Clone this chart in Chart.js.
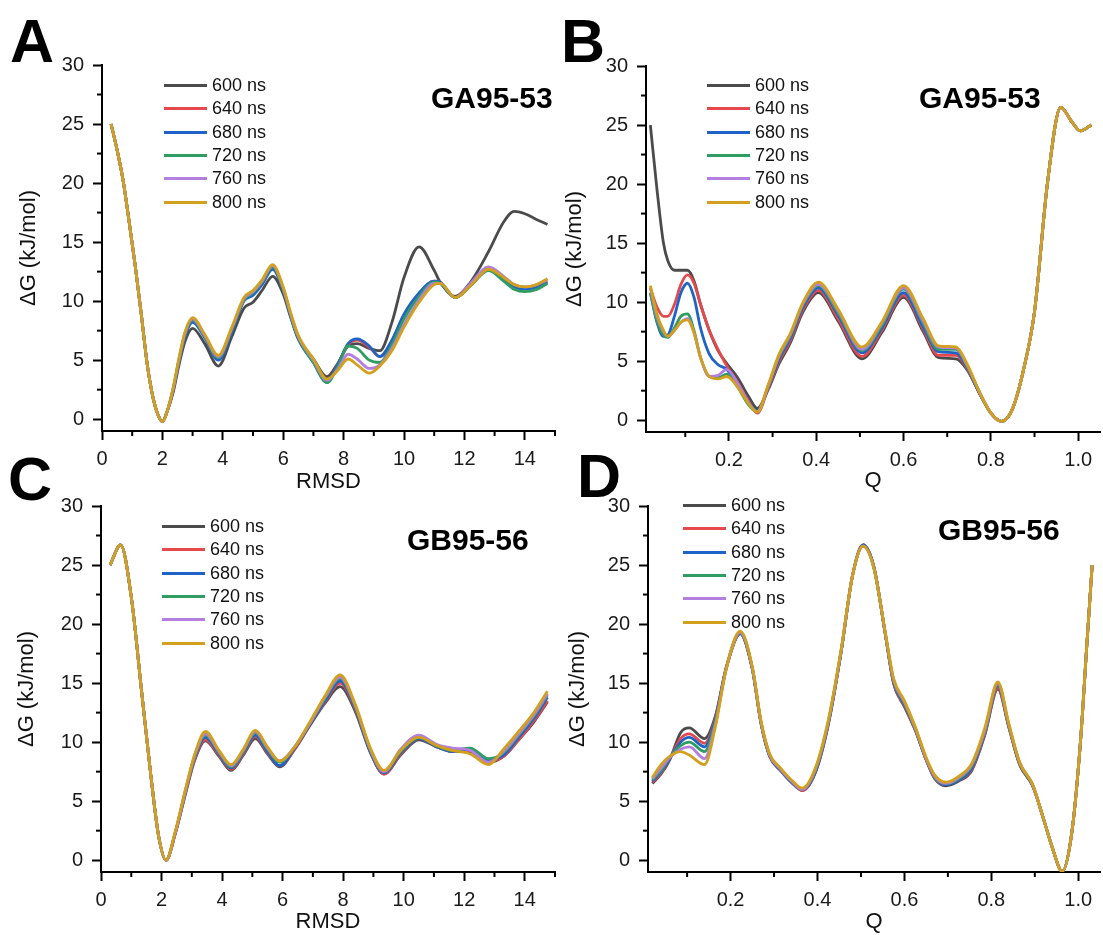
<!DOCTYPE html>
<html>
<head>
<meta charset="utf-8">
<script src="https://cdn.jsdelivr.net/npm/chart.js@4/dist/chart.umd.min.js"></script>
<style>
body { margin: 0; width: 1103px; height: 935px; position: relative; background: #fff; overflow: hidden;
       font-family: 'Liberation Sans', Arial, sans-serif; color: #000; }
canvas { position: absolute; }
.letter { position: absolute; font-weight: bold; font-size: 61px; line-height: 61px; }
.tag { position: absolute; font-weight: bold; font-size: 30px; line-height: 30px; white-space: nowrap; }
.legend { position: absolute; font-size: 18px; color: #111; }
.legend div { height: 23.3px; display: flex; align-items: center; white-space: nowrap; }
.legend span.ln { display: inline-block; width: 43px; height: 3px; margin-right: 5px; }
</style>
</head>
<body>
<canvas id="cA" width="560" height="500" style="left:0;top:0"></canvas>
<canvas id="cB" width="543" height="500" style="left:560px;top:0"></canvas>
<canvas id="cC" width="560" height="495" style="left:0;top:440px"></canvas>
<canvas id="cD" width="543" height="495" style="left:560px;top:440px"></canvas>

<div class="letter" style="left:10px;top:11px">A</div>
<div class="letter" style="left:561px;top:11px">B</div>
<div class="letter" style="left:8px;top:449px">C</div>
<div class="letter" style="left:577px;top:446px">D</div>

<div class="tag" style="left:431px;top:83px">GA95-53</div>
<div class="tag" style="left:919px;top:83px">GA95-53</div>
<div class="tag" style="left:407px;top:525px">GB95-56</div>
<div class="tag" style="left:938px;top:515px">GB95-56</div>

<div class="legend" id="lA" style="left:164px;top:74px"></div>
<div class="legend" id="lB" style="left:707px;top:74px"></div>
<div class="legend" id="lC" style="left:162px;top:515px"></div>
<div class="legend" id="lD" style="left:683px;top:494px"></div>

<script>
const LABELS = ['600 ns', '640 ns', '680 ns', '720 ns', '760 ns', '800 ns'];
const COLORS = ['#4b4b4b', '#e5484d', '#1f63c8', '#2f9d62', '#b27ee0', '#d2a01c'];

// axis ticks
const dgTicks = [0, 5, 10, 15, 20, 25, 30];
const dgMinor = [2.5, 7.5, 12.5, 17.5, 22.5, 27.5];
const rmsdTicks = [0, 2, 4, 6, 8, 10, 12, 14];
const rmsdMinor = [1, 3, 5, 7, 9, 11, 13, 15];
const qTicks = [0.2, 0.4, 0.6, 0.8, 1.0];
const qMinor = [0.1, 0.3, 0.5, 0.7, 0.9];

// panel A: GA95-53 vs RMSD
const rmsdA = [0.3, 0.5, 0.7, 0.9, 1.1, 1.3, 1.5, 1.7, 1.85, 2.0, 2.15, 2.35, 2.55, 2.75, 3.0, 3.4, 3.85, 4.3, 4.7, 5.0,
  5.3, 5.65, 6.0, 6.25, 6.5, 7.0, 7.45, 7.8, 8.15, 8.45, 8.85, 9.2, 9.6, 10.0, 10.5, 11.0, 11.2, 11.7, 12.2, 12.8,
  13.3, 13.65, 14.0, 14.4, 14.75];
const a600 = [25.0, 22.8, 20.2, 16.7, 13.0, 8.9, 4.6, 1.7, 0.4, -0.2, 0.6, 2.2, 4.6, 6.6, 7.7, 6.4, 4.5, 7.0, 9.4, 9.9,
  10.9, 12.1, 10.6, 8.6, 6.8, 5.1, 3.6, 4.7, 6.2, 6.4, 6.0, 5.8, 8.2, 12.0, 14.6, 12.6, 11.6, 10.4, 11.6, 14.2,
  16.7, 17.6, 17.4, 16.9, 16.5];
const a640 = [25.0, 22.8, 20.2, 16.7, 13.0, 8.9, 4.6, 1.7, 0.4, -0.2, 0.6, 2.4, 4.9, 7.1, 8.3, 7.0, 5.1, 7.5, 10.1, 10.6,
  11.5, 12.8, 11.0, 8.8, 6.9, 4.9, 3.2, 4.6, 6.3, 6.7, 6.1, 5.3, 6.6, 8.8, 10.6, 11.7, 11.6, 10.3, 11.4, 12.7,
  11.9, 11.3, 11.1, 11.3, 11.7];
const a680 = [25.0, 22.8, 20.2, 16.7, 13.0, 8.9, 4.6, 1.7, 0.4, -0.2, 0.6, 2.4, 4.9, 7.0, 8.2, 6.9, 5.0, 7.4, 10.0, 10.5,
  11.4, 12.7, 10.9, 8.7, 6.8, 4.8, 3.1, 4.6, 6.4, 6.8, 6.2, 5.3, 6.7, 8.9, 10.7, 11.7, 11.6, 10.3, 11.3, 12.6,
  11.8, 11.2, 11.0, 11.2, 11.6];
const a720 = [25.0, 22.8, 20.2, 16.7, 13.0, 8.9, 4.6, 1.7, 0.4, -0.2, 0.6, 2.5, 5.0, 7.2, 8.4, 7.0, 5.2, 7.6, 10.1, 10.7,
  11.6, 12.9, 11.0, 8.8, 6.9, 4.8, 3.1, 4.4, 6.2, 6.0, 5.0, 4.8, 6.3, 8.5, 10.4, 11.6, 11.5, 10.3, 11.3, 12.6,
  11.7, 11.0, 10.8, 11.0, 11.5];
const a760 = [25.0, 22.8, 20.2, 16.7, 13.0, 8.9, 4.6, 1.7, 0.4, -0.2, 0.6, 2.5, 5.1, 7.3, 8.5, 7.1, 5.3, 7.7, 10.2, 10.8,
  11.7, 13.0, 11.1, 8.9, 7.0, 5.0, 3.3, 4.2, 5.5, 5.1, 4.3, 4.6, 6.0, 8.0, 10.1, 11.5, 11.5, 10.3, 11.5, 12.9,
  12.1, 11.4, 11.2, 11.4, 11.8];
const a800 = [25.0, 22.8, 20.2, 16.7, 13.0, 8.9, 4.6, 1.7, 0.4, -0.2, 0.6, 2.6, 5.2, 7.4, 8.6, 7.2, 5.4, 7.8, 10.3, 10.9,
  11.8, 13.1, 11.2, 9.0, 7.1, 5.1, 3.4, 4.1, 5.1, 4.6, 3.9, 4.5, 5.8, 7.8, 9.9, 11.4, 11.5, 10.3, 11.3, 12.7,
  12.0, 11.4, 11.2, 11.4, 11.9];

// panel B: GA95-53 vs Q
const qB = [0.02, 0.035, 0.05, 0.06, 0.075, 0.09, 0.105, 0.12, 0.135, 0.155, 0.175, 0.195, 0.22, 0.245, 0.265, 0.29,
  0.315, 0.34, 0.37, 0.405, 0.45, 0.505, 0.55, 0.6, 0.645, 0.68, 0.72, 0.745, 0.775, 0.8, 0.825, 0.85, 0.875, 0.9,
  0.93, 0.96, 0.985, 1.005, 1.03];
const b600 = [25.0, 19.6, 15.0, 13.5, 12.7, 12.7, 12.7, 11.8, 9.8, 7.6, 5.9, 4.8, 3.6, 2.0, 1.0, 2.6, 4.8, 6.5, 9.2, 10.8,
  8.4, 5.2, 7.4, 10.4, 7.5, 5.3, 5.2, 4.3, 2.2, 0.6, -0.1, 1.0, 4.3, 9.2, 20.2, 26.5, 25.3, 24.5, 25.0];
const b640 = [11.2, 9.6, 8.8, 8.8, 9.8, 11.5, 12.3, 11.6, 9.8, 7.6, 6.0, 4.6, 3.2, 1.6, 0.6, 2.7, 5.0, 6.7, 9.4, 11.0,
  8.6, 5.4, 7.6, 10.6, 7.7, 5.5, 5.5, 4.4, 2.2, 0.6, -0.1, 1.0, 4.3, 9.2, 20.2, 26.5, 25.3, 24.5, 25.0];
const b680 = [10.8, 8.3, 7.1, 7.2, 8.8, 10.8, 11.6, 10.4, 7.8, 5.6, 4.7, 4.3, 3.0, 1.5, 0.8, 2.8, 5.2, 6.9, 9.6, 11.2,
  8.9, 5.7, 7.8, 10.8, 7.9, 5.8, 5.7, 4.5, 2.2, 0.6, -0.1, 1.0, 4.3, 9.2, 20.2, 26.5, 25.3, 24.5, 25.0];
const b720 = [10.8, 8.4, 7.2, 7.0, 7.8, 8.8, 9.0, 7.6, 5.3, 3.7, 3.6, 3.9, 2.8, 1.3, 0.7, 2.9, 5.4, 7.1, 9.8, 11.4,
  9.1, 5.9, 8.0, 11.1, 8.2, 6.0, 6.0, 4.6, 2.3, 0.6, -0.1, 1.0, 4.3, 9.2, 20.2, 26.5, 25.3, 24.5, 25.0];
const b760 = [11.2, 8.8, 7.5, 7.1, 7.6, 8.3, 8.6, 7.4, 5.3, 3.7, 3.8, 4.3, 3.1, 1.5, 0.7, 2.9, 5.5, 7.2, 9.9, 11.5,
  9.3, 6.0, 8.2, 11.2, 8.4, 6.2, 6.1, 4.7, 2.3, 0.6, -0.1, 1.0, 4.3, 9.2, 20.2, 26.5, 25.3, 24.5, 25.0];
const b800 = [11.4, 9.0, 7.6, 7.1, 7.6, 8.3, 8.5, 7.4, 5.3, 3.7, 3.5, 3.7, 2.8, 1.4, 0.7, 3.0, 5.6, 7.3, 10.0, 11.7,
  9.4, 6.2, 8.3, 11.4, 8.6, 6.3, 6.2, 4.8, 2.3, 0.6, -0.1, 1.0, 4.3, 9.2, 20.2, 26.5, 25.3, 24.5, 25.0];

// panel C: GB95-56 vs RMSD
const rmsdC = [0.3, 0.65, 1.0, 1.35, 1.65, 1.9, 2.15, 2.45, 2.8, 3.1, 3.45, 3.9, 4.3, 4.7, 5.1, 5.5, 5.9, 6.4, 6.9, 7.4,
  7.9, 8.4, 8.9, 9.35, 9.9, 10.5, 11.1, 11.6, 12.2, 12.8, 13.3, 13.8, 14.3, 14.75];
const c600 = [25.0, 26.7, 22.3, 14.1, 7.1, 2.1, 0.0, 2.2, 5.7, 8.5, 10.1, 8.8, 7.6, 8.9, 10.3, 9.0, 7.9, 9.4, 11.4, 13.3,
  14.7, 12.6, 9.1, 7.3, 8.9, 10.2, 9.6, 9.2, 9.2, 8.3, 8.8, 10.2, 11.7, 13.4];
const c640 = [25.0, 26.7, 22.3, 14.1, 7.1, 2.1, 0.0, 2.2, 5.8, 8.6, 10.2, 8.9, 7.7, 9.0, 10.5, 9.1, 8.0, 9.4, 11.5, 13.4,
  15.0, 12.8, 9.2, 7.3, 9.0, 10.3, 9.6, 9.2, 9.3, 8.4, 8.8, 10.2, 11.8, 13.5];
const c680 = [25.0, 26.7, 22.3, 14.1, 7.1, 2.1, 0.0, 2.3, 5.9, 8.7, 10.4, 9.0, 7.8, 9.1, 10.6, 9.2, 8.0, 9.5, 11.5, 13.5,
  15.2, 12.9, 9.2, 7.4, 9.1, 10.3, 9.6, 9.2, 9.4, 8.5, 8.9, 10.4, 12.0, 13.8];
const c720 = [25.0, 26.7, 22.3, 14.1, 7.1, 2.1, 0.0, 2.3, 6.0, 8.8, 10.6, 9.1, 7.9, 9.2, 10.8, 9.4, 8.3, 9.6, 11.6, 13.7,
  15.4, 13.0, 9.3, 7.5, 9.2, 10.4, 9.7, 9.3, 9.5, 8.6, 9.1, 10.6, 12.2, 14.0];
const c760 = [25.0, 26.7, 22.3, 14.1, 7.1, 2.1, 0.0, 2.3, 6.0, 8.9, 10.7, 9.2, 8.0, 9.3, 10.9, 9.5, 8.4, 9.6, 11.6, 13.8,
  15.5, 13.1, 9.4, 7.5, 9.4, 10.6, 9.8, 9.5, 9.3, 8.3, 9.2, 10.7, 12.3, 14.1];
const c800 = [25.0, 26.7, 22.3, 14.1, 7.1, 2.1, 0.0, 2.4, 6.1, 9.0, 10.9, 9.3, 8.1, 9.4, 11.0, 9.6, 8.4, 9.6, 11.7, 13.9,
  15.7, 13.2, 9.5, 7.6, 9.3, 10.4, 9.7, 9.3, 9.0, 8.1, 9.4, 10.9, 12.5, 14.3];

// panel D: GB95-56 vs Q
const qD = [0.02, 0.04, 0.06, 0.085, 0.105, 0.14, 0.165, 0.19, 0.222, 0.25, 0.27, 0.29, 0.315, 0.34, 0.365, 0.395, 0.425,
  0.455, 0.48, 0.505, 0.53, 0.555, 0.575, 0.6, 0.625, 0.65, 0.67, 0.695, 0.725, 0.755, 0.785, 0.815, 0.84, 0.865,
  0.895, 0.92, 0.94, 0.963, 0.985, 1.005, 1.02, 1.032];
const d600 = [6.5, 7.3, 8.5, 10.8, 11.2, 10.3, 12.2, 16.3, 19.2, 16.2, 11.6, 8.8, 7.6, 6.6, 5.9, 7.4, 11.5, 17.8, 24.0, 26.7,
  24.8, 19.4, 15.0, 13.0, 11.0, 8.5, 6.9, 6.3, 6.7, 7.6, 10.6, 14.5, 11.3, 8.1, 6.3, 3.5, 1.1, -0.95, 2.3, 10.0, 18.4, 25.0];
const d640 = [6.6, 7.4, 8.6, 10.3, 10.7, 9.9, 12.0, 16.3, 19.2, 16.2, 11.6, 8.8, 7.6, 6.6, 5.9, 7.5, 11.6, 17.8, 24.0, 26.7,
  24.8, 19.4, 15.0, 13.1, 11.0, 8.5, 6.9, 6.4, 6.8, 7.7, 10.7, 14.6, 11.3, 8.1, 6.3, 3.5, 1.1, -0.95, 2.3, 10.0, 18.4, 25.0];
const d680 = [6.7, 7.5, 8.6, 10.0, 10.4, 9.6, 11.9, 16.3, 19.2, 16.2, 11.6, 8.8, 7.6, 6.6, 6.0, 7.5, 11.6, 17.8, 24.0, 26.7,
  24.8, 19.4, 15.1, 13.2, 11.1, 8.5, 7.0, 6.4, 6.8, 7.8, 10.8, 14.8, 11.4, 8.2, 6.3, 3.5, 1.1, -0.95, 2.3, 10.0, 18.4, 25.0];
const d720 = [6.8, 7.6, 8.7, 9.7, 10.0, 9.2, 11.7, 16.2, 19.3, 16.3, 11.7, 8.9, 7.7, 6.7, 6.0, 7.6, 11.7, 17.9, 24.0, 26.6,
  24.7, 19.4, 15.2, 13.3, 11.1, 8.6, 7.0, 6.5, 6.9, 8.0, 10.9, 14.9, 11.4, 8.2, 6.4, 3.5, 1.1, -0.95, 2.3, 10.0, 18.4, 25.0];
const d760 = [6.9, 7.8, 8.7, 9.4, 9.6, 8.6, 11.5, 16.2, 19.3, 16.3, 11.7, 8.9, 7.7, 6.7, 6.0, 7.7, 11.8, 17.9, 24.0, 26.6,
  24.7, 19.5, 15.3, 13.4, 11.2, 8.6, 7.1, 6.5, 7.0, 8.1, 11.0, 15.0, 11.5, 8.3, 6.4, 3.5, 1.1, -0.95, 2.3, 10.0, 18.4, 25.0];
const d800 = [7.0, 8.1, 8.8, 9.2, 8.9, 8.1, 11.3, 16.2, 19.4, 16.4, 11.8, 9.0, 7.8, 6.8, 6.1, 7.8, 11.9, 18.0, 24.0, 26.6,
  24.7, 19.5, 15.4, 13.5, 11.3, 8.7, 7.2, 6.6, 7.1, 8.2, 11.2, 15.1, 11.6, 8.3, 6.4, 3.5, 1.1, -0.95, 2.3, 10.0, 18.4, 25.0];

const FONT = "'Liberation Sans', Arial, sans-serif";
Chart.defaults.font.family = FONT;
Chart.defaults.color = '#1a1a1a';

// short unlabeled ticks between the labelled ones
const minorTicks = {
  id: 'minorTicks',
  afterDraw(chart, args, opts) {
    const ctx = chart.ctx, xs = chart.scales.x, ys = chart.scales.y;
    ctx.save();
    ctx.strokeStyle = '#000';
    ctx.lineWidth = 2;
    opts.x.forEach(v => {
      const p = xs.getPixelForValue(v);
      ctx.beginPath(); ctx.moveTo(p, xs.top); ctx.lineTo(p, xs.top + 5); ctx.stroke();
    });
    opts.y.forEach(v => {
      const p = ys.getPixelForValue(v);
      ctx.beginPath(); ctx.moveTo(ys.right, p); ctx.lineTo(ys.right - 5, p); ctx.stroke();
    });
    ctx.restore();
  }
};

function axisLook() {
  return {
    border: { display: true, color: '#000', width: 2 },
    grid: { display: true, drawOnChartArea: false, drawTicks: true, tickLength: 9, tickWidth: 2, tickColor: '#000' }
  };
}

function buildChart(id, xs, series, o) {
  return new Chart(document.getElementById(id), {
    type: 'line',
    data: {
      datasets: series.map((ys, i) => ({
        label: LABELS[i],
        data: xs.map((x, j) => ({ x: x, y: ys[j] })),
        borderColor: COLORS[i],
        borderWidth: 2.8,
        pointRadius: 0,
        fill: false,
        cubicInterpolationMode: 'monotone',
        order: series.length - i
      }))
    },
    options: {
      responsive: false,
      animation: false,
      events: [],
      layout: { padding: { top: o.top, right: o.right, left: 0, bottom: 0 } },
      plugins: {
        legend: { display: false },
        tooltip: { enabled: false },
        minorTicks: { x: o.minor, y: dgMinor }
      },
      scales: {
        x: Object.assign(axisLook(), {
          type: 'linear', min: o.min, max: o.max,
          afterBuildTicks: s => { s.ticks = o.ticks.map(v => ({ value: v })); },
          afterFit: s => { s.height = o.xh; },
          ticks: { font: { size: 20 }, padding: 7, maxRotation: 0, autoSkip: false, callback: o.fmt },
          title: { display: true, text: o.xTitle, font: { size: 22 }, color: '#111', padding: { top: 0, bottom: o.xtPad } }
        }),
        y: Object.assign(axisLook(), {
          type: 'linear', min: -1, max: 30,
          afterBuildTicks: s => { s.ticks = dgTicks.map(v => ({ value: v })); },
          afterFit: s => { s.width = o.yw; },
          ticks: { font: { size: 20 }, padding: 9 },
          title: { display: true, text: 'ΔG (kJ/mol)', font: { size: 22 }, color: '#111', padding: { top: o.ytPad, bottom: 0 } }
        })
      }
    },
    plugins: [minorTicks]
  });
}

function buildLegend(id) {
  const box = document.getElementById(id);
  LABELS.forEach((lab, i) => {
    const row = document.createElement('div');
    const ln = document.createElement('span');
    ln.className = 'ln';
    ln.style.background = COLORS[i];
    row.appendChild(ln);
    row.appendChild(document.createTextNode(lab));
    box.appendChild(row);
  });
}

const fmtInt = v => String(v);
const fmtQ = v => v.toFixed(1);

buildChart('cA', rmsdA, [a600, a640, a680, a720, a760, a800],
  { min: 0, max: 15, ticks: rmsdTicks, minor: rmsdMinor, fmt: fmtInt, xTitle: 'RMSD',
    top: 65, right: 5, yw: 102, xh: 69, xtPad: 5, ytPad: 16 });
buildChart('cB', qB, [b600, b640, b680, b720, b760, b800],
  { min: 0.01, max: 1.05, ticks: qTicks, minor: qMinor, fmt: fmtQ, xTitle: 'Q',
    top: 66, right: 3, yw: 86, xh: 68, xtPad: 6, ytPad: 2 });
buildChart('cC', rmsdC, [c600, c640, c680, c720, c760, c800],
  { min: 0, max: 15, ticks: rmsdTicks, minor: rmsdMinor, fmt: fmtInt, xTitle: 'RMSD',
    top: 66, right: 5, yw: 101, xh: 63, xtPad: 0, ytPad: 14 });
buildChart('cD', qD, [d600, d640, d680, d720, d760, d800],
  { min: 0.01, max: 1.05, ticks: qTicks, minor: qMinor, fmt: fmtQ, xTitle: 'Q',
    top: 66, right: 3, yw: 88, xh: 63, xtPad: 0, ytPad: 5 });

['lA', 'lB', 'lC', 'lD'].forEach(buildLegend);
</script>
</body>
</html>
